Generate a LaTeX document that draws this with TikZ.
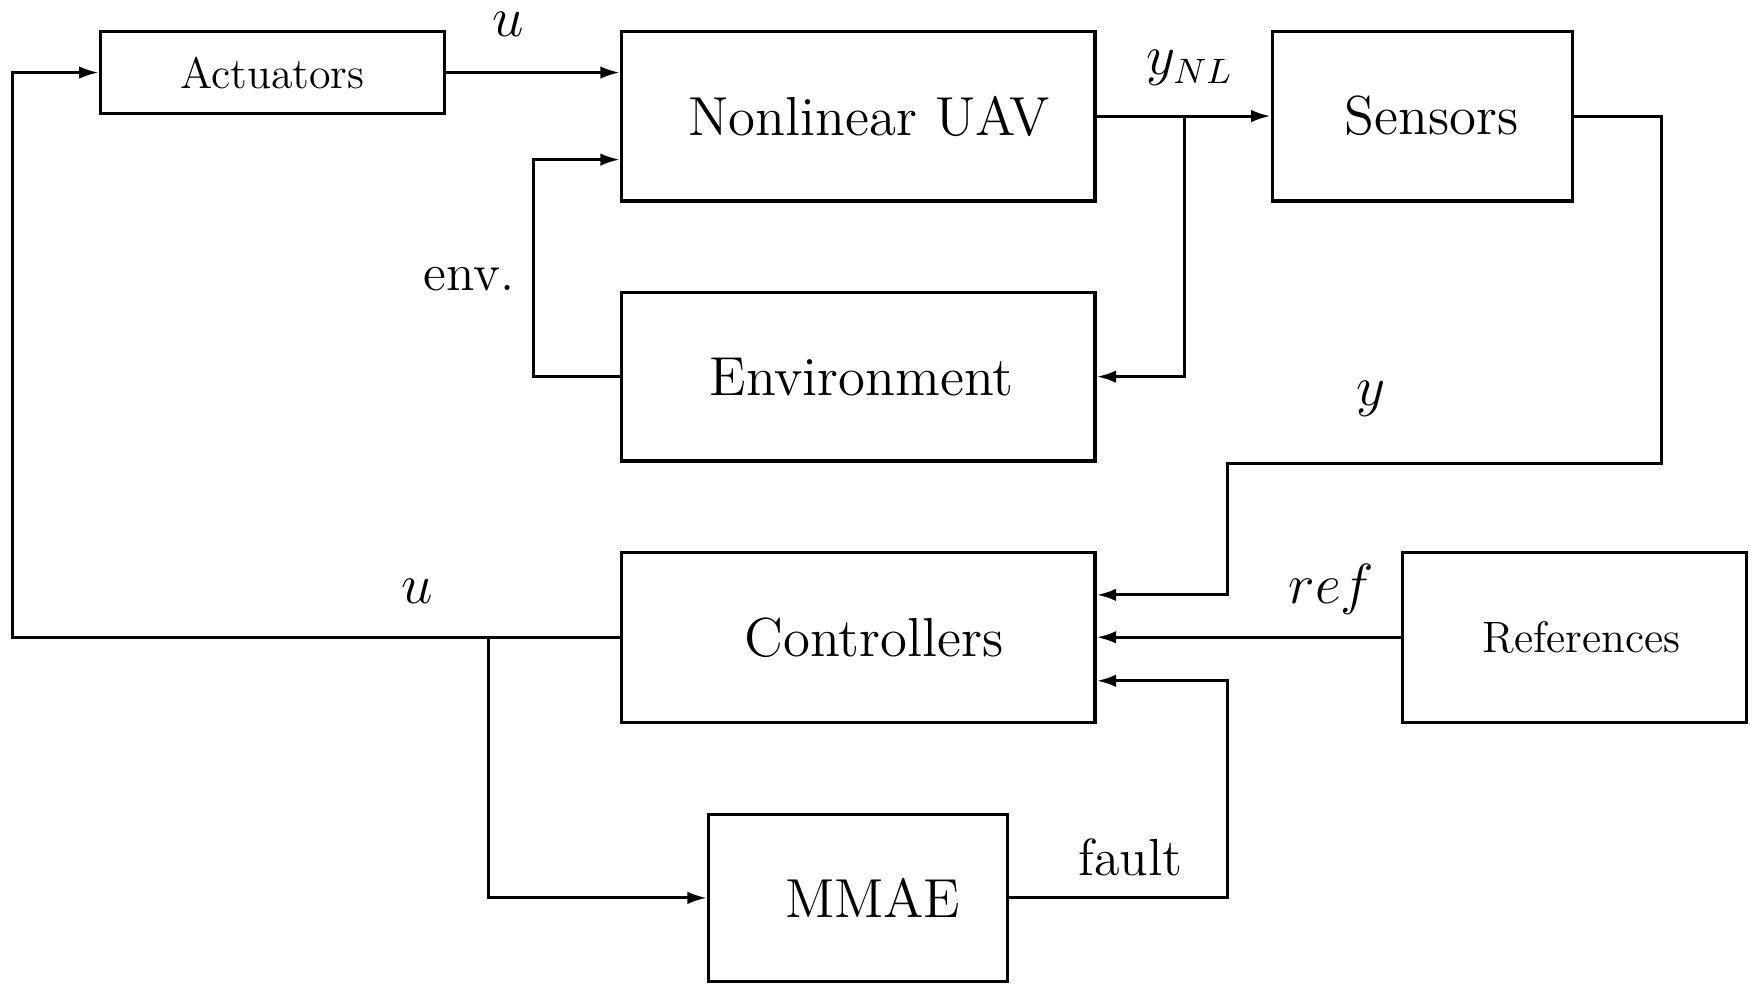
\documentclass[tikz,border=0pt]{standalone}
\usetikzlibrary{arrows.meta}
\begin{document}
\begin{tikzpicture}[x=0.01cm,y=-0.01cm,
  blk/.style={draw,line width=0.8pt,inner sep=0pt,font=\fontsize{14}{17}\selectfont},
  smallblk/.style={blk,font=\fontsize{11.2}{14}\selectfont},
  arr/.style={line width=0.8pt,-{Latex[length=5pt,width=3.2pt]}},
  lbl/.style={inner sep=0pt,font=\fontsize{13.3}{16}\selectfont}]
\useasboundingbox (0,0) rectangle (1568,881);
% blocks
\node[smallblk,minimum width=3.08cm,minimum height=0.74cm] (act) at (244,65) {Actuators};
\node[blk,minimum width=4.24cm,minimum height=1.52cm] (uav) at (769,104) {\hspace*{0.2cm}Nonlinear UAV};
\node[blk,minimum width=2.69cm,minimum height=1.52cm] (sen) at (1274.5,104) {\hspace*{0.16cm}Sensors};
\node[blk,minimum width=4.24cm,minimum height=1.51cm] (env) at (769,337.5) {\hspace*{0.06cm}Environment};
\node[blk,minimum width=4.24cm,minimum height=1.52cm] (ctrl) at (769,571) {\hspace*{0.28cm}Controllers};
\node[smallblk,minimum width=3.08cm,minimum height=1.52cm] (refs) at (1411,571) {\hspace*{0.12cm}References};
\node[blk,minimum width=2.68cm,minimum height=1.5cm] (mmae) at (769,804.5) {\hspace*{0.26cm}MMAE};
% helper coordinates
\coordinate (b1) at (1061,104);
\coordinate (e1) at (478,143);
\coordinate (s1) at (1489,415);
\coordinate (s2) at (1100,533);
\coordinate (m1) at (1100,610);
\coordinate (c1) at (11,65);
\coordinate (c2) at (438,571);
% connectors
\draw[arr] (act.east) -- (uav.west |- act.east);
\draw[arr] (uav.east) -- (sen.west);
\draw[arr] (b1) |- (env.east);
\draw[arr] (env.west) -| (e1) -- (uav.west |- e1);
\draw[arr] (sen.east) -| (s1) -| (s2) -- (ctrl.east |- s2);
\draw[arr] (refs.west) -- (ctrl.east);
\draw[arr] (mmae.east) -| (m1) -- (ctrl.east |- m1);
\draw[arr] (ctrl.west) -| (c1) -- (act.west);
\draw[arr] (c2) |- (mmae.west);
% labels
\node[lbl] (lu1) at (455,22) {$u$};
\node[lbl] (lynl) at (1066,61) {$y_{NL}$};
\node[lbl] (lenv) at (420,250) {env.};
\node[lbl] (ly) at (1228,357) {$y$};
\node[lbl] (lref) at (1193,528) {$ref$};
\node[lbl] (lu2) at (374,530) {$u$};
\node[lbl] (lfault) at (1013,768) {fault};
\end{tikzpicture}
\end{document}
